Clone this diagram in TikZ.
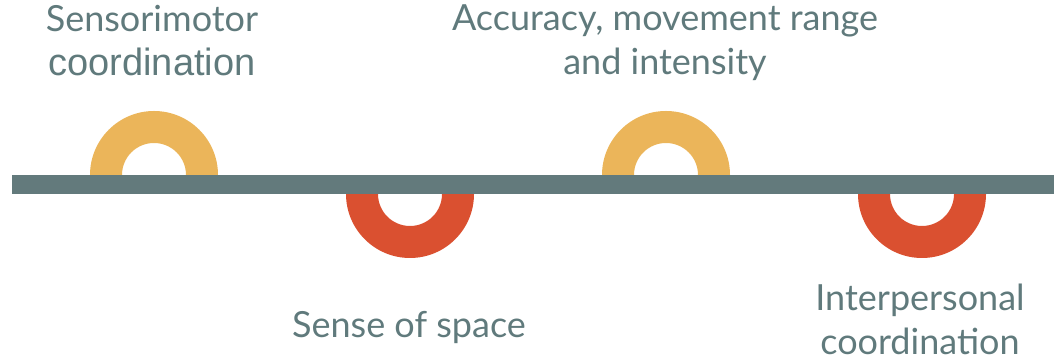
\documentclass[tikz,border=0pt]{standalone}
\usepackage{fontspec}
\setmainfont{Lato}
\newfontfamily\arialfont{Liberation Sans}
\usepackage{tikz}
\usetikzlibrary{positioning}

\definecolor{bargray}{HTML}{637A7C}
\definecolor{labelgray}{HTML}{607A7C}
\definecolor{ringyellow}{HTML}{EBB55A}
\definecolor{ringred}{HTML}{DA5030}

\tikzset{
  lbl/.style={align=center, text=labelgray, inner sep=0pt, anchor=base,
    font=\fontsize{18}{22}\selectfont},
}

\begin{document}
\begin{tikzpicture}[x=0.5pt, y=0.5pt]
        \useasboundingbox (0,0) rectangle (1054,362);

        % rings above the bar
        \foreach \x in {154,666} {
            \fill[ringyellow] (\x-64,187) arc[start angle=180, end angle=0, radius=64]
                -- ++(-32,0) arc[start angle=0, end angle=180, radius=32] -- cycle;
        }
        % rings below the bar
        \foreach \x in {410,922} {
            \fill[ringred] (\x-64,168) arc[start angle=180, end angle=360, radius=64]
                -- ++(-32,0) arc[start angle=360, end angle=180, radius=32] -- cycle;
        }

        % bar
        \fill[bargray] (12,168) rectangle (1054,187);

        % labels (anchored on the baseline of the last line)
        \node[lbl] (sensorimotor) at (152,286) {Sensorimotor\\{\arialfont\fontsize{19}{22}\selectfont coordination}};
        \node[lbl] (accuracy) at (665,287) {Accuracy, movement range\\and intensity};
        \node[lbl] (space) at (409,24) {Sense of space};
        \node[lbl] (interpersonal) at (920,7) {Interpersonal\\coordination};
    \end{tikzpicture}
\end{document}
